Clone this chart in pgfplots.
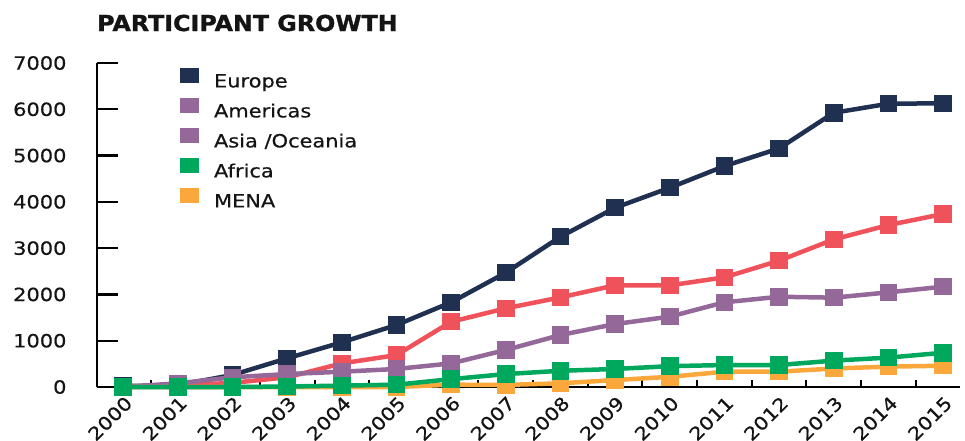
\documentclass[border=0pt]{standalone}
\usepackage{fontspec}
\setmainfont{DejaVu Sans}[FakeStretch=1.15, FakeBold=0.6]
\newfontfamily\titlefont{DejaVu Sans}[FakeStretch=1.08, FakeBold=1.2]
\usepackage{pgfplots}
\pgfplotsset{compat=1.18}

\definecolor{europe}{RGB}{31,48,80}
\definecolor{americas}{RGB}{239,82,90}
\definecolor{asia}{RGB}{149,104,154}
\definecolor{africa}{RGB}{0,168,94}
\definecolor{mena}{RGB}{250,168,60}
\definecolor{ink}{RGB}{20,20,20}

\begin{document}
\begin{tikzpicture}
\useasboundingbox (-97pt,-53pt) rectangle (868pt,387pt);
\begin{axis}[
    at={(0,0)}, anchor=south west,
    scale only axis,
    width=863pt, height=324pt,
    xmin=-0.48, xmax=15.31,
    ymin=0, ymax=7000,
    clip=false,
    axis lines=left,
    axis line style={-, line width=2.4pt, black},
    xtick={0,...,15},
    xticklabels={2000,2001,2002,2003,2004,2005,2006,2007,2008,2009,2010,2011,2012,2013,2014,2015},
    minor xtick={0.5,1.5,...,14.5},
    x tick style={line width=2pt, black, /pgfplots/major tick length=0pt, /pgfplots/minor tick length=7pt},
    ytick={0,1000,...,7000},
    y tick style={line width=2.4pt, black, /pgfplots/major tick length=21pt},
    tick align=inside,
    scaled y ticks=false,
    /pgf/number format/assume math mode=true,
    yticklabel={\pgfmathprintnumber[fixed,1000 sep={}]{\tick}},
    ticklabel style={font=\fontsize{18.2}{20}\selectfont, text=ink},
    yticklabel style={xshift=-27pt},
    xticklabel style={rotate=45, anchor=north east, xshift=-1.5pt, yshift=-2.5pt},
    legend cell align=left,
    legend style={at={(axis description cs:0.096,0.984)}, anchor=north west,
        draw=none, fill=none, inner sep=0pt, row sep=5pt, column sep=0pt,
        font=\fontsize{18.2}{20}\selectfont, text=ink,
        nodes={inner sep=2pt, text height=14pt, text depth=4pt}},
    legend image code/.code={\fill[#1, draw=none] (0pt,-1pt) rectangle (19pt,14pt);},
    every axis plot/.append style={line width=4.5pt, mark=square*, mark size=6.5pt,
        mark options={xscale=1.2}},
]
\addlegendimage{europe}\addlegendentry{\hspace{13pt}Europe}
\addlegendimage{asia}\addlegendentry{\hspace{13pt}Americas}
\addlegendimage{asia}\addlegendentry{\hspace{13pt}Asia /Oceania}
\addlegendimage{africa}\addlegendentry{\hspace{13pt}Africa}
\addlegendimage{mena}\addlegendentry{\hspace{13pt}MENA}

% Europe
\addplot[europe, mark options={fill=europe}, forget plot] coordinates {
(0,20) (1,40) (2,260) (3,620) (4,965) (5,1340) (6,1830) (7,2470)
(8,3247) (9,3873) (10,4305) (11,4773) (12,5155) (13,5925) (14,6120) (15,6130)};
% Americas (red)
\addplot[americas, mark options={fill=americas}, forget plot] coordinates {
(0,0) (1,30) (2,90) (3,210) (4,510) (5,690) (6,1410) (7,1700)
(8,1937) (9,2196) (10,2196) (11,2369) (12,2729) (13,3189) (14,3499) (15,3737)};
% Asia / Oceania
\addplot[asia, mark options={fill=asia}, forget plot] coordinates {
(0,0) (1,80) (2,210) (3,280) (4,330) (5,390) (6,510) (7,800)
(8,1123) (9,1360) (10,1520) (11,1830) (12,1950) (13,1930) (14,2045) (15,2167)};
% MENA
\addplot[mena, mark options={fill=mena}, forget plot] coordinates {
(0,0) (1,0) (2,0) (3,0) (4,0) (5,0) (6,50) (7,45)
(8,80) (9,150) (10,220) (11,330) (12,330) (13,400) (14,440) (15,460)};
% Africa
\addplot[africa, mark options={fill=africa}, forget plot] coordinates {
(0,0) (1,0) (2,0) (3,10) (4,30) (5,50) (6,170) (7,280)
(8,350) (9,390) (10,450) (11,475) (12,475) (13,570) (14,635) (15,740)};

\node[anchor=base west, inner sep=0pt, text=ink, font=\titlefont\bfseries\fontsize{22}{24}\selectfont]
  at ([yshift=32pt]rel axis cs:0,1) {PARTICIPANT GROWTH};
\end{axis}
\end{tikzpicture}
\end{document}
